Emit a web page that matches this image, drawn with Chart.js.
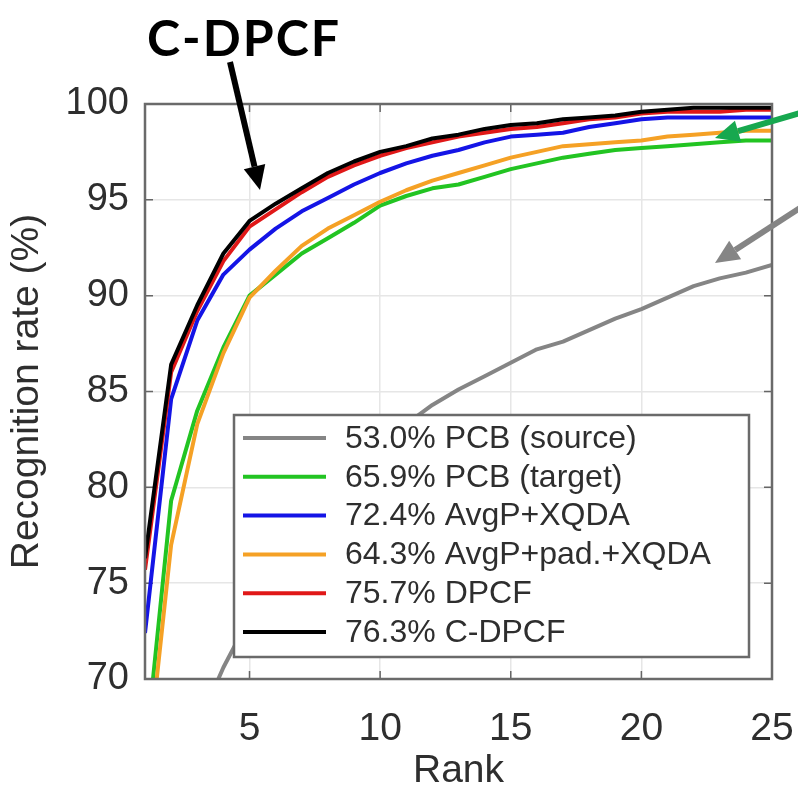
<!DOCTYPE html>
<html>
<head>
<meta charset="utf-8">
<script src="https://cdn.jsdelivr.net/npm/chart.js@4.4.1/dist/chart.umd.min.js"></script>
<style>
  html, body { margin: 0; padding: 0; background: #fff; }
  #wrap { width: 798px; height: 787px; position: relative; }
</style>
</head>
<body>
<div id="wrap"><canvas id="myChart" width="798" height="787"></canvas></div>
<script>
// ranks on the x axis
const ranks = [1,2,3,4,5,6,7,8,9,10,11,12,13,14,15,16,17,18,19,20,21,22,23,24,25];
const xTicks = [5, 10, 15, 20, 25];
const yTicks = [70, 75, 80, 85, 90, 95, 100];

// CMC curves (%)
const pcbSource = [53.0,62.0,67.5,70.6,73.2,75.5,77.5,79.2,80.7,82.0,83.3,84.3,85.1,85.8,86.5,87.2,87.6,88.2,88.8,89.3,89.9,90.5,90.9,91.2,91.6];
const pcbTarget = [65.9,79.3,84.0,87.3,90.0,91.1,92.2,93.0,93.8,94.7,95.2,95.6,95.8,96.2,96.6,96.9,97.2,97.4,97.6,97.7,97.8,97.9,98.0,98.1,98.1];
const avgpXqda = [72.4,84.6,88.7,91.1,92.4,93.5,94.4,95.1,95.8,96.4,96.9,97.3,97.6,98.0,98.3,98.4,98.5,98.8,99.0,99.2,99.3,99.3,99.3,99.3,99.3];
const avgpPadXqda = [64.3,77.0,83.3,87.0,89.9,91.3,92.6,93.5,94.2,94.9,95.5,96.0,96.4,96.8,97.2,97.5,97.8,97.9,98.0,98.1,98.3,98.4,98.5,98.6,98.6];
const dpcf = [75.7,86.0,89.2,91.8,93.6,94.5,95.4,96.2,96.8,97.3,97.7,98.0,98.3,98.5,98.7,98.8,99.0,99.2,99.3,99.5,99.6,99.6,99.6,99.7,99.7];
const cDpcf = [76.3,86.4,89.5,92.2,93.9,94.8,95.6,96.4,97.0,97.5,97.8,98.2,98.4,98.7,98.9,99.0,99.2,99.3,99.4,99.6,99.7,99.8,99.8,99.8,99.8];

const seriesLabels = ["53.0% PCB (source)", "65.9% PCB (target)", "72.4% AvgP+XQDA", "64.3% AvgP+pad.+XQDA", "75.7% DPCF", "76.3% C-DPCF"];
const seriesColors = ["#858585", "#22c422", "#1414e6", "#f5a125", "#e01818", "#000000"];
const seriesData = [pcbSource, pcbTarget, avgpXqda, avgpPadXqda, dpcf, cDpcf];

const AREA = { left: 145, right: 772, top: 104, bottom: 679 };
const TEXT = "#2e2e2e";
const FONT = "'Liberation Sans', Arial, sans-serif";

// frame, inward ticks, legend box and the arrow notes
const framePlugin = {
  id: "frame",
  beforeDatasetsDraw(chart) {
    const ctx = chart.ctx;
    const a = chart.chartArea;
    const xs = chart.scales.x, ys = chart.scales.y;
    ctx.save();
    ctx.strokeStyle = "#666";
    ctx.lineWidth = 1.5;
    xTicks.forEach(v => {
      const px = xs.getPixelForValue(v);
      ctx.beginPath();
      ctx.moveTo(px, a.bottom); ctx.lineTo(px, a.bottom - 8);
      ctx.moveTo(px, a.top); ctx.lineTo(px, a.top + 8);
      ctx.stroke();
    });
    yTicks.forEach(v => {
      const py = ys.getPixelForValue(v);
      ctx.beginPath();
      ctx.moveTo(a.left, py); ctx.lineTo(a.left + 8, py);
      ctx.moveTo(a.right, py); ctx.lineTo(a.right - 8, py);
      ctx.stroke();
    });
    ctx.restore();
  },
  afterDraw(chart) {
    const ctx = chart.ctx;
    const a = chart.chartArea;
    ctx.save();
    ctx.strokeStyle = "#6a6a6a";
    ctx.lineWidth = 2.5;
    ctx.strokeRect(a.left, a.top, a.right - a.left, a.bottom - a.top);

    // legend
    const lx = 234, ly = 415, lw = 515, lh = 242;
    ctx.fillStyle = "#fff";
    ctx.fillRect(lx, ly, lw, lh);
    ctx.strokeStyle = "#6a6a6a";
    ctx.lineWidth = 2.5;
    ctx.strokeRect(lx, ly, lw, lh);
    ctx.font = "32px " + FONT;
    ctx.textBaseline = "middle";
    ctx.textAlign = "left";
    chart.data.datasets.forEach((ds, i) => {
      const y = 438 + i * 38.8;
      ctx.strokeStyle = ds.borderColor;
      ctx.lineWidth = 4;
      ctx.beginPath();
      ctx.moveTo(243, y); ctx.lineTo(326, y);
      ctx.stroke();
      ctx.fillStyle = TEXT;
      ctx.fillText(ds.label, 345, y + 1);
    });

    // notes
    ctx.fillStyle = "#000";
    ctx.font = "bold 50px Lato, 'Open Sans', sans-serif";
    ctx.letterSpacing = "2px";
    ctx.textAlign = "center";
    ctx.textBaseline = "alphabetic";
    ctx.fillText("C-DPCF", 244, 56);
    ctx.letterSpacing = "0px";
    drawArrow(ctx, 230, 62, 260, 190, "#000", 6, 24, 22);
    drawArrow(ctx, 800, 113, 715, 138, "#17a84f", 6, 24, 22);
    drawArrow(ctx, 800, 208, 715, 263, "#858585", 6, 24, 22);
    ctx.restore();
  }
};

function drawArrow(ctx, x1, y1, x2, y2, color, width, headLen, headWid) {
  const ang = Math.atan2(y2 - y1, x2 - x1);
  const bx = x2 - headLen * Math.cos(ang), by = y2 - headLen * Math.sin(ang);
  ctx.strokeStyle = color;
  ctx.fillStyle = color;
  ctx.lineWidth = width;
  ctx.beginPath();
  ctx.moveTo(x1, y1); ctx.lineTo(bx, by);
  ctx.stroke();
  const nx = -Math.sin(ang) * headWid / 2, ny = Math.cos(ang) * headWid / 2;
  ctx.beginPath();
  ctx.moveTo(x2, y2);
  ctx.lineTo(bx + nx, by + ny);
  ctx.lineTo(bx - nx, by - ny);
  ctx.closePath();
  ctx.fill();
}

const datasets = seriesData.map((vals, i) => ({
  label: seriesLabels[i],
  data: vals.map((v, j) => ({ x: ranks[j], y: v })),
  borderColor: seriesColors[i],
  backgroundColor: seriesColors[i],
  borderWidth: 4,
  pointRadius: 0,
  tension: 0,
  borderJoinStyle: "round",
  order: seriesData.length - i
}));

new Chart("myChart", {
  type: "line",
  data: { datasets: datasets },
  options: {
    responsive: false,
    animation: false,
    layout: { padding: { top: AREA.top, right: 798 - AREA.right, left: 0, bottom: 0 } },
    plugins: { legend: { display: false }, tooltip: { enabled: false } },
    scales: {
      x: {
        type: "linear",
        min: 1,
        max: 25,
        afterBuildTicks: (s) => { s.ticks = xTicks.map(v => ({ value: v })); },
        afterFit: (s) => { s.height = 787 - AREA.bottom; s.paddingLeft = 0; s.paddingRight = 0; },
        grid: { color: "#e6e6e6", lineWidth: 1.5, drawTicks: false },
        border: { display: false },
        ticks: { color: TEXT, font: { family: FONT, size: 39 }, padding: 27, maxRotation: 0 },
        title: { display: true, text: "Rank", color: TEXT, font: { family: FONT, size: 39, lineHeight: 0.8 }, padding: { top: 0, bottom: 0 } }
      },
      y: {
        min: 70,
        max: 100,
        afterBuildTicks: (s) => { s.ticks = yTicks.map(v => ({ value: v })); },
        afterFit: (s) => { s.width = AREA.left; s.paddingTop = 0; s.paddingBottom = 0; },
        grid: { color: "#e6e6e6", lineWidth: 1.5, drawTicks: false },
        border: { display: false },
        ticks: { color: TEXT, font: { family: FONT, size: 38 }, padding: 16 },
        title: { display: true, text: "Recognition rate (%)", color: TEXT, font: { family: FONT, size: 39, lineHeight: 1.0 }, padding: { top: 8, bottom: 0 } }
      }
    }
  },
  plugins: [framePlugin]
});
</script>
</body>
</html>
